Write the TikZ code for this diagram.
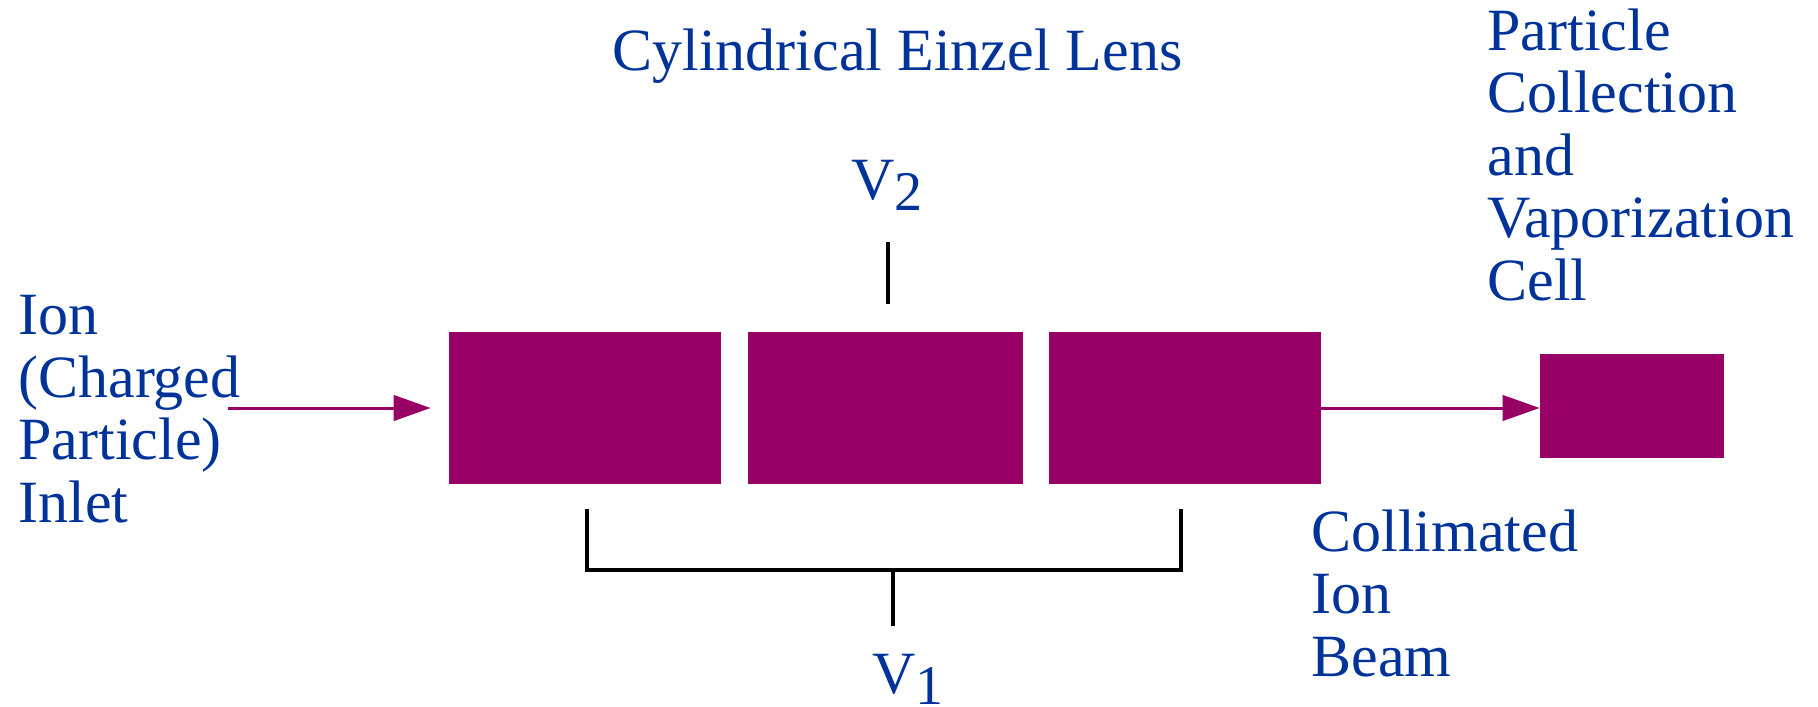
\documentclass[tikz,border=0pt]{standalone}
\usepackage{fontspec}
\setmainfont{Liberation Serif}
\usetikzlibrary{arrows.meta}
\definecolor{labelblue}{RGB}{0,51,153}
\definecolor{lensred}{RGB}{153,0,102}

\begin{document}
\begin{tikzpicture}[
    x=0.5pt, y=-0.5pt,
    line join=miter, >={Triangle[length=18.5pt,width=12.7pt]},
    every node/.style={font=\fontsize{30}{31.25}\selectfont,text=labelblue,inner sep=0pt},
    electrode/.style={fill=lensred,minimum height=76pt},
    beam/.style={draw=lensred,line width=1.5pt,->},
    lead/.style={draw=black,line width=1.7pt},
    caption/.style={anchor=base west,align=left}
]
    \useasboundingbox (0,0) rectangle (1818,706);

    % Three electrodes of the einzel lens, then the collection cell.
    \node[electrode,minimum width=136pt] (elA) at (585,408) {};
    \node[electrode,minimum width=137.5pt] (elB) at (885.5,408) {};
    \node[electrode,minimum width=136pt] (elC) at (1185,408) {};
    \node[fill=lensred,minimum width=92pt,minimum height=52pt] (cell) at (1632,406) {};

    % Beam in and out of the lens.
    \coordinate (inlet) at (228,408);
    \draw[beam] (inlet) -- ([xshift=-9pt]elA.west);
    \draw[beam] (elC.east) -- (elC.east -| cell.west);

    % Supply leads: V2 on the middle electrode, V1 on the outer pair.
    \coordinate (v2a) at (888,242);
    \coordinate (v2b) at (888,304);
    \draw[lead] (v2a) -- (v2b);
    \coordinate (brL) at (587,509);
    \coordinate (brR) at (1181,509);
    \coordinate (brM) at (893,570);
    \coordinate (v1a) at (893,626);
    \draw[lead] (brL) -- (brL |- brM) -- (brR |- brM) -- (brR);
    \draw[lead] (brM) -- (v1a);

    % Captions; a multi-line node sits on the baseline of its last line.
    \node[caption] (title) at (612,71) {Cylindrical Einzel Lens};
    \node[caption] (v2lab) at (851,199)
        {V\raisebox{-5.5pt}{\fontsize{28}{28}\selectfont 2}};
    \node[caption] (v1lab) at (872,693)
        {V\raisebox{-5.5pt}{\fontsize{28}{28}\selectfont 1}};
    \node[caption] (inletlab) at (18,522) {Ion\\(Charged\\Particle)\\Inlet};
    \node[caption] (celllab) at (1487,300)
        {Particle\\Collection\\and\\Vaporization\\Cell};
    \node[caption] (beamlab) at (1311,676) {Collimated\\Ion\\Beam};
\end{tikzpicture}
\end{document}
